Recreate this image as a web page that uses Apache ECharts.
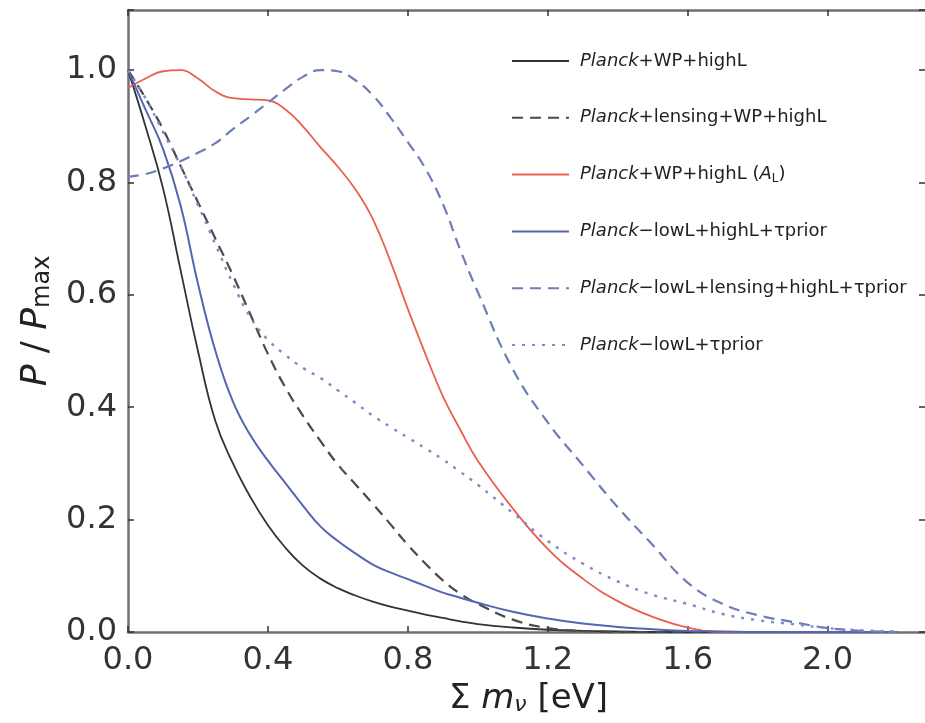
<!DOCTYPE html>
<html>
<head>
<meta charset="utf-8">
<script src="https://cdn.jsdelivr.net/npm/echarts@6/dist/echarts.min.js"></script>
<style>
html,body{margin:0;padding:0;background:#fff;overflow:hidden;width:925px;height:723px;}
#chart{width:934px;height:723px;}
</style>
</head>
<body>
<div id="chart"></div>
<script>
// x grid (sum of neutrino masses, eV)
const xs = [0,0.05,0.1,0.15,0.2,0.25,0.3,0.35,0.4,0.45,0.5,0.55,0.6,0.65,0.7,0.75,0.8,0.85,0.9,0.95,1.0,1.1,1.2,1.3,1.4,1.5,1.6,1.7,1.8,1.9,2.0,2.1,2.2];
// Planck+WP+highL
const sWP = [1.0,0.9,0.79,0.645,0.5,0.375,0.3,0.24,0.19,0.15,0.118,0.095,0.078,0.065,0.054,0.045,0.038,0.031,0.025,0.019,0.014,0.008,0.004,0.002,0.001,0,0,0,0,0,0,0,0];
// Planck+lensing+WP+highL
const sLensWP = [1.0,0.95,0.895,0.83,0.765,0.7,0.635,0.565,0.495,0.435,0.385,0.34,0.298,0.263,0.228,0.192,0.155,0.122,0.092,0.068,0.05,0.022,0.007,0.002,0,0,0,0,0,0,0,0,0];
// Planck+WP+highL (A_L)
const sAL = [0.968,0.985,0.998,1.0,0.985,0.962,0.95,0.948,0.946,0.93,0.9,0.863,0.828,0.788,0.735,0.66,0.575,0.495,0.42,0.36,0.305,0.22,0.148,0.095,0.055,0.027,0.008,0,0,0,0,0,0];
// Planck-lowL+highL+tau prior
const sLowL = [1.0,0.93,0.86,0.76,0.62,0.5,0.41,0.35,0.305,0.265,0.225,0.188,0.162,0.14,0.12,0.106,0.094,0.082,0.07,0.061,0.052,0.036,0.024,0.015,0.009,0.005,0.002,0.001,0,0,0,0,0];
// Planck-lowL+lensing+highL+tau prior
const sLowLLens = [0.81,0.815,0.825,0.838,0.853,0.87,0.895,0.918,0.942,0.966,0.988,1.0,0.998,0.982,0.955,0.916,0.872,0.825,0.762,0.68,0.605,0.468,0.373,0.297,0.222,0.155,0.088,0.05,0.03,0.018,0.007,0.002,0];
// Planck-lowL+tau prior
const sLowLTau = [1.0,0.95,0.89,0.83,0.76,0.69,0.62,0.56,0.52,0.493,0.47,0.452,0.43,0.408,0.385,0.365,0.346,0.327,0.307,0.285,0.262,0.212,0.162,0.122,0.09,0.066,0.05,0.032,0.021,0.014,0.007,0.003,0.001];

const seriesNames = ['Planck+WP+highL','Planck+lensing+WP+highL','Planck+WP+highL (A_L)','Planck\u2212lowL+highL+\u03c4prior','Planck\u2212lowL+lensing+highL+\u03c4prior','Planck\u2212lowL+\u03c4prior'];
const legendRich = [
  '{i|Planck}{n|+WP+highL}',
  '{i|Planck}{n|+lensing+WP+highL}',
  '{i|Planck}{n|+WP+highL (}{i|A}{s|L}{n|)}',
  '{i|Planck}{n|\u2212lowL+highL+\u03c4prior}',
  '{i|Planck}{n|\u2212lowL+lensing+highL+\u03c4prior}',
  '{i|Planck}{n|\u2212lowL+\u03c4prior}'
];
const xTickStep = 0.4;
const yTickStep = 0.2;

function pairs(arr){ return xs.map((x,i)=>[x, arr[i]]); }
function isMult(v, step){ const r = v/step; return Math.abs(r-Math.round(r))<1e-6; }

const chart = echarts.init(document.getElementById('chart'), null, {renderer:'canvas'});
const FONT = 'DejaVu Sans';
const axisCol = '#707070';

function mk(name, arr, color, type, width){
  return {name:name, type:'line', data:pairs(arr), showSymbol:false, symbol:'none',
    smooth:0.45, lineStyle:{color:color, width:width, type:type}, itemStyle:{color:color}, z:3};
}

const option = {
  animation:false,
  backgroundColor:'#fff',
  grid:{left:128, top:10, right:5, bottom:91, containLabel:false},
  legend:{
    orient:'vertical', left:506, top:46, itemWidth:57, itemHeight:20, itemGap:36.8,
    data:seriesNames,
    itemStyle:{opacity:0},
    formatter:function(n){ return legendRich[seriesNames.indexOf(n)]; },
    textStyle:{fontFamily:FONT, fontSize:18, color:'#222', lineHeight:20, padding:[0,0,0,6],
      rich:{
        i:{fontFamily:FONT, fontSize:18, fontStyle:'italic', color:'#222'},
        n:{fontFamily:FONT, fontSize:18, color:'#222'},
        s:{fontFamily:FONT, fontSize:12, color:'#222', padding:[8,0,0,0]}
      }}
  },
  xAxis:[{
    type:'value', min:0, max:2.29, interval:xTickStep, position:'bottom',
    name:'{n|\u03a3}{i| m}{si|\u03bd}{n| [eV]}', nameLocation:'middle', nameGap:48,
    nameTextStyle:{fontFamily:FONT, fontSize:34, color:'#222',
      rich:{n:{fontFamily:FONT,fontSize:34,color:'#222'}, i:{fontFamily:FONT,fontSize:34,fontStyle:'italic',color:'#222'},
            si:{fontFamily:FONT,fontSize:22,fontStyle:'italic',color:'#222',padding:[12,0,0,0]}}},
    axisLine:{show:true, onZero:false, lineStyle:{color:axisCol, width:2.5}},
    axisTick:{show:true, inside:true, length:6, lineStyle:{color:'#333', width:1.5}},
    axisLabel:{fontFamily:FONT, fontSize:32, color:'#333', margin:13,
      formatter:function(v){ return isMult(v,xTickStep) ? v.toFixed(1) : ''; }},
    splitLine:{show:false}
  },{
    type:'value', min:0, max:2.29, interval:xTickStep, position:'top',
    axisLine:{show:true, onZero:false, lineStyle:{color:axisCol, width:2.5}},
    axisTick:{show:true, inside:true, length:6, lineStyle:{color:'#333', width:1.5}},
    axisLabel:{show:false}, splitLine:{show:false}
  }],
  yAxis:[{
    type:'value', min:0, max:1.107, interval:yTickStep, position:'left',
    name:'{i|P}{n| / }{i|P}{s|max}', nameLocation:'middle', nameGap:72, nameRotate:90,
    nameTextStyle:{fontFamily:FONT, fontSize:36, color:'#222',
      rich:{n:{fontFamily:FONT,fontSize:36,color:'#222'}, i:{fontFamily:FONT,fontSize:36,fontStyle:'italic',color:'#222'},
            s:{fontFamily:FONT,fontSize:24,color:'#222',padding:[14,0,0,0]}}},
    axisLine:{show:true, onZero:false, lineStyle:{color:axisCol, width:2.5}},
    axisTick:{show:true, inside:true, length:6, lineStyle:{color:'#333', width:1.5}},
    axisLabel:{fontFamily:FONT, fontSize:32, color:'#333', margin:11,
      formatter:function(v){ return isMult(v,yTickStep) ? v.toFixed(1) : ''; }},
    splitLine:{show:false}
  },{
    type:'value', min:0, max:1.107, interval:yTickStep, position:'right',
    axisLine:{show:true, onZero:false, lineStyle:{color:axisCol, width:2.5}},
    axisTick:{show:true, inside:true, length:10, lineStyle:{color:'#333', width:1.5}},
    axisLabel:{show:false}, splitLine:{show:false}
  }],
  series:[
    mk(seriesNames[0], sWP, '#333333', 'solid', 1.8),
    mk(seriesNames[1], sLensWP, '#4a4a4a', [11,7], 2.2),
    mk(seriesNames[2], sAL, '#e8604e', 'solid', 1.8),
    mk(seriesNames[3], sLowL, '#5565b3', 'solid', 2),
    mk(seriesNames[4], sLowLLens, '#6d7db8', [11,7], 2.2),
    mk(seriesNames[5], sLowLTau, '#7d8ac4', [3,7], 2.4)
  ]
};
chart.setOption(option);
</script>
</body>
</html>
